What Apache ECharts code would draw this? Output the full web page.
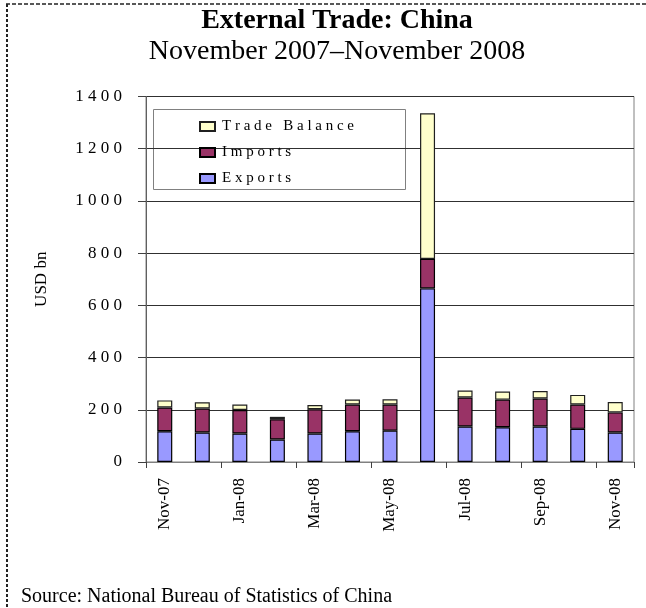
<!DOCTYPE html>
<html>
<head>
<meta charset="utf-8">
<script src="https://cdn.jsdelivr.net/npm/echarts@6/dist/echarts.min.js"></script>
<style>
html,body{margin:0;padding:0;background:#fff;}
#c{width:646px;height:608px;}
</style>
</head>
<body>
<div id="c"></div>
<script>
var categories = ['Nov-07','Dec-07','Jan-08','Feb-08','Mar-08','Apr-08','May-08','Jun-08','Jul-08','Aug-08','Sep-08','Oct-08','Nov-08'];
var exportsData = [118, 113, 109, 86, 109, 118, 120, 665, 136, 133, 136, 127, 113];
var importsData = [91, 92, 90, 78, 93, 102, 100, 113, 111, 106, 107, 93, 77];
var balanceData = [27, 24, 21, 9, 16, 19, 20, 558, 27, 31, 29, 37, 40];
var yTicks = [0, 200, 400, 600, 800, 1000, 1200, 1400];

var serif = 'Liberation Serif';
function spaced(s){ return String(s).split('').join(' '); }

var chart = echarts.init(document.getElementById('c'), null, {renderer:'canvas'});
chart.setOption({
  animation: false,
  backgroundColor: '#ffffff',
  textStyle: {fontFamily: serif, color: '#000'},
  grid: {left: 146, right: 12, top: 96.5, bottom: 146, show: true, borderColor: '#808080', borderWidth: 1, backgroundColor: 'transparent'},
  legend: {
    orient: 'vertical', left: 194, top: 114, padding: 5,
    data: ['Trade Balance', 'Imports', 'Exports'],
    itemWidth: 15, itemHeight: 9, itemGap: 11,
    icon: 'rect',
    formatter: function(n){ return spaced(n); },
    textStyle: {fontFamily: serif, fontSize: 15, color: '#000', padding: [0,0,0,2]},
    selectedMode: false
  },
  xAxis: {
    type: 'category', data: categories,
    axisLine: {lineStyle: {color: '#808080', width: 1}},
    axisTick: {show: true, interval: 1, length: 6, lineStyle: {color: '#404040'}},
    axisLabel: {interval: 1, rotate: 90, fontSize: 17, margin: 16, color: '#000', fontFamily: serif}
  },
  yAxis: {
    type: 'value', min: yTicks[0], max: yTicks[yTicks.length-1], interval: 200,
    name: 'USD bn', nameLocation: 'middle', nameGap: 96, nameRotate: 90,
    nameTextStyle: {fontFamily: serif, fontSize: 17, color: '#000'},
    axisLine: {show: true, lineStyle: {color: '#606060', width: 1}},
    axisTick: {show: true, length: 8, lineStyle: {color: '#404040'}},
    axisLabel: {fontSize: 17, margin: 24, color: '#000', fontFamily: serif,
      formatter: function(v){ return yTicks.indexOf(v) >= 0 ? spaced(v) : ''; }},
    splitLine: {lineStyle: {color: '#303030', width: 1}}
  },
  series: [
    {name: 'Exports', type: 'bar', stack: 't', data: exportsData, barWidth: 15,
     itemStyle: {color: '#9999FF', borderColor: '#000', borderWidth: 1.2}},
    {name: 'Imports', type: 'bar', stack: 't', data: importsData, barWidth: 15,
     itemStyle: {color: '#993366', borderColor: '#000', borderWidth: 1.2}},
    {name: 'Trade Balance', type: 'bar', stack: 't', data: balanceData, barWidth: 15,
     itemStyle: {color: '#FFFFCC', borderColor: '#202020', borderWidth: 1.2}}
  ],
  graphic: [
    {type: 'rect', left: 153, top: 109, shape: {width: 252, height: 80}, style: {fill: '#fff', stroke: '#808080', lineWidth: 1}, z: 0, silent: true},
    {type: 'line', shape: {x1: 6, y1: 4, x2: 646, y2: 4}, style: {stroke: '#222', lineWidth: 1.5, lineDash: [4, 2]}, silent: true},
    {type: 'line', shape: {x1: 7, y1: 4, x2: 7, y2: 608}, style: {stroke: '#222', lineWidth: 2, lineDash: [3, 2]}, silent: true},
    {type: 'text', x: 337, y: 21, style: {text: 'External Trade: China', fontFamily: serif, fontSize: 28, fontWeight: 'bold', fill: '#000', textAlign: 'center', textVerticalAlign: 'middle'}},
    {type: 'text', x: 337, y: 52, style: {text: 'November 2007\u2013November 2008', fontFamily: serif, fontSize: 28, fill: '#000', textAlign: 'center', textVerticalAlign: 'middle'}},
    {type: 'text', x: 21, y: 597, style: {text: 'Source: National Bureau of Statistics of China', fontFamily: serif, fontSize: 20, fill: '#000', textAlign: 'left', textVerticalAlign: 'middle'}}
  ]
});
</script>
</body>
</html>
